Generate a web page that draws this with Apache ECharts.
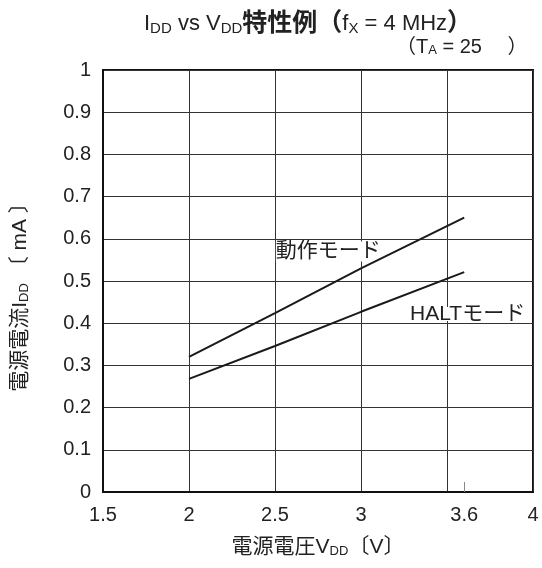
<!DOCTYPE html>
<html><head><meta charset="utf-8">
<script src="https://cdn.jsdelivr.net/npm/echarts@6/dist/echarts.min.js"></script>
<style>html,body{margin:0;padding:0;background:#fff}#c{width:542px;height:568px}</style>
</head><body><div id="c"></div>
<script>
var vdd = [2, 2.5, 3, 3.6];
var operating = [0.32, 0.424, 0.53, 0.65];
var halt = [0.268, 0.346, 0.427, 0.521];
var xTickLabels = [1.5, 2, 2.5, 3, 3.6, 4];
var xMarkTicks = [3.6];
var operatingLabel = ['動作モード', 2.505, 0.57, 20];
var haltLabel = ['HALTモード', 3.285, 0.422, 14];

var FF = "'Liberation Sans', Arial, 'Noto Sans CJK JP', sans-serif";
var C = '#222';
function sub(sz){ return {fontSize: sz, fill: C, color: C, fontFamily: FF, fontWeight: 'normal', verticalAlign: 'bottom', padding: [5,0,0,0]}; }
var chart = echarts.init(document.getElementById('c'));
chart.setOption({
  animation: false,
  backgroundColor: '#fff',
  textStyle: {fontFamily: FF},
  grid: {left: 103, right: 9, top: 70, bottom: 76, show: true, borderColor: '#111', borderWidth: 2},
  xAxis: [{
    type: 'value', min: 1.5, max: 4, interval: 0.5,
    axisLine: {show: true, lineStyle: {color: '#111', width: 2}},
    axisTick: {show: false},
    axisLabel: {show: false},
    splitLine: {show: true, lineStyle: {color: '#333', width: 1}}
  }, {
    type: 'value', min: 1.5, max: 4, position: 'bottom',
    axisLine: {show: false},
    axisTick: {show: true, inside: true, length: 10, customValues: xMarkTicks, lineStyle: {color: '#888', width: 1}},
    axisLabel: {show: true, customValues: xTickLabels, fontSize: 20, color: C, margin: 13, fontFamily: FF},
    splitLine: {show: false},
    name: '電源電圧V{s|DD}〔V〕', nameLocation: 'middle', nameGap: 45,
    nameTextStyle: {fontSize: 21, color: C, fontFamily: FF, rich: {s: sub(13)}}
  }],
  yAxis: {
    type: 'value', min: 0, max: 1, interval: 0.1,
    axisLine: {show: true, lineStyle: {color: '#111', width: 2}},
    axisTick: {show: false},
    axisLabel: {fontSize: 20, color: C, margin: 12, fontFamily: FF},
    splitLine: {show: true, lineStyle: {color: '#333', width: 1}}
  },
  series: [{
    type: 'line', xAxisIndex: 0, symbol: 'none', z: 3,
    data: vdd.map(function(v,i){return [v, operating[i]];}),
    lineStyle: {color: '#1a1a1a', width: 2}
  }, {
    type: 'line', xAxisIndex: 0, symbol: 'none', z: 3,
    data: vdd.map(function(v,i){return [v, halt[i]];}),
    lineStyle: {color: '#1a1a1a', width: 2}
  }]
});
function lbl(a){
  var p = chart.convertToPixel({xAxisIndex: 0, yAxisIndex: 0}, [a[1], a[2]]);
  return {type: 'text', x: p[0], y: p[1], z: 1,
    style: {text: a[0], fontSize: 21, lineHeight: a[3], fill: C, fontFamily: FF, verticalAlign: 'middle',
      backgroundColor: '#fff', padding: [0, 0]}};
}
chart.setOption({graphic: [
  lbl(operatingLabel), lbl(haltLabel),
  {type: 'text', x: 144, y: 24, z: 10, style: {
    text: '{n|I}{s|DD}{n| vs V}{s|DD}{b|特性例（}{n|f}{s|X}{n| = 4 MHz}{b|）}',
    verticalAlign: 'middle', fill: C, fontFamily: FF,
    rich: {
      n: {fontSize: 22, fill: C, fontFamily: FF},
      s: sub(15),
      b: {fontSize: 25, fill: C, fontWeight: 'bold', fontFamily: FF}
    }}},
  {type: 'text', x: 396, y: 47, z: 10, style: {
    text: '{n|（T}{s|A}{n| = 25　 ）}', verticalAlign: 'middle', fill: C, fontFamily: FF,
    rich: {n: {fontSize: 20, fill: C, fontFamily: FF}, s: sub(13)}}},
  {type: 'text', x: 20, y: 292, rotation: Math.PI / 2, z: 10, style: {
    text: '{n|電源電流I}{s|DD}{n| 〔 mA 〕}', align: 'center', verticalAlign: 'middle', fill: C, fontFamily: FF,
    rich: {n: {fontSize: 21, fill: C, fontFamily: FF}, s: sub(13)}}}
]});
</script></body></html>
